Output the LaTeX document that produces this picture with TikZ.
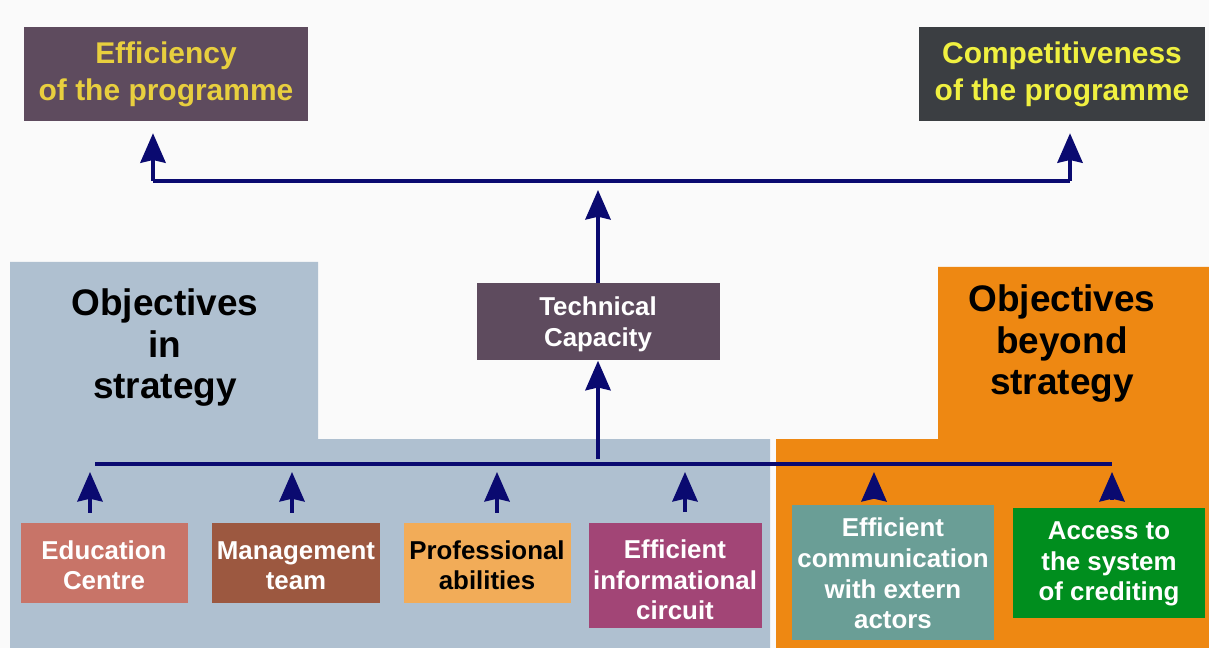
\documentclass[tikz,border=0pt]{standalone}
\usepackage{fontspec}
\setmainfont{Liberation Sans}
\usetikzlibrary{arrows.meta}
\usetikzlibrary{positioning}

\definecolor{bgwhite}{HTML}{FAFAFA}
\definecolor{arrowblue}{HTML}{0A0A70}
\definecolor{regionblue}{HTML}{AFC0D0}
\definecolor{regionorange}{HTML}{EE8812}
\definecolor{effbox}{HTML}{5E4B5E}
\definecolor{effyellow}{HTML}{E8CF3E}
\definecolor{compbox}{HTML}{3B3E42}
\definecolor{compyellow}{HTML}{F0F040}
\definecolor{educol}{HTML}{C87468}
\definecolor{mancol}{HTML}{9C5840}
\definecolor{procol}{HTML}{F2AC58}
\definecolor{infcol}{HTML}{A24576}
\definecolor{comcol}{HTML}{6A9E96}
\definecolor{acccol}{HTML}{008E1E}

\tikzset{
  link/.style={draw=arrowblue, line width=2.3pt},
  uparrow/.style={link, -{Stealth[length=21pt,width=18pt,inset=2pt]}},
  topbox/.style={inner sep=0pt, align=center, font=\bfseries\fontsize{21.3}{26.3}\selectfont},
  objtext/.style={inner sep=0pt, align=center, font=\bfseries\fontsize{26.3}{29.5}\selectfont},
  smallbox/.style={inner sep=0pt, align=center, text=white, font=\bfseries\fontsize{18.4}{21.8}\selectfont},
  % last baseline sits #1/2 below the node centre
  lastline/.style={text depth=0pt, text height=#1},
}

\begin{document}
\begin{tikzpicture}[x=0.025cm, y=-0.025cm]

 \def\px{0.025cm};

 %background
 \fill[bgwhite] (0,0) rectangle (1209,648);
 \useasboundingbox (0,0) rectangle (1209,648);

 %regions
 \fill[regionblue] (10,262) -- (318,262) -- (318,439) -- (770,439) -- (770,648) -- (10,648) -- cycle;
 \fill[regionorange] (938,267) -- (1209,267) -- (1209,648) -- (776,648) -- (776,439) -- (938,439) -- cycle;

 \node[objtext] (instr) at (165,348) {Objectives\\in\\strategy};
 \node[objtext] (beyond) at (1062,344) {Objectives\\beyond\\strategy};

 %top boxes
 \node[topbox, fill=effbox, text=effyellow, minimum width=284*\px, minimum height=94*\px] (eff) at (166,74) {Efficiency\\of the programme};
 \node[topbox, fill=compbox, text=compyellow, minimum width=286*\px, minimum height=94*\px] (comp) at (1062,74) {Competitiveness\\of the programme};

 \node[smallbox, lastline=34.4pt, fill=effbox, minimum width=243*\px, minimum height=77*\px] (tc) at (598,322) {Technical\\Capacity};

 %bottom boxes
 \foreach \x/\y/\w/\h/\col/\name/\bl/\txt in {
     104/563/167/80/educol/ec/38pt/{Education\\Centre},
     296/563/168/80/mancol/mt/38pt/{Management\\team},
     675/575/173/105/infcol/ic/63.6pt/{Efficient\\informational\\circuit},
     893/572/202/135/comcol/ca/80.7pt/{Efficient\\communication\\with extern\\actors},
     1109/563/192/110/acccol/ac/53.7pt/{Access to\\the system\\of crediting}}{
     \node[smallbox, lastline=\bl, fill=\col, minimum width=\w*\px, minimum height=\h*\px] (\name) at (\x,\y) {\txt};
 }
 \node[smallbox, lastline=38pt, fill=procol, text=black, minimum width=167*\px, minimum height=80*\px] (pa) at (487,563) {Professional\\abilities};

 %top connectors
 \coordinate (tl) at (153,181);
 \coordinate (tr) at (1070,181);
 \draw[link] (tl) -- (tr);
 \draw[uparrow, shorten >=12*\px] (tl) -- (tl |- eff.south);
 \draw[uparrow, shorten >=12*\px] (tr) -- (tr |- comp.south);
 \draw[uparrow, shorten >=9*\px] (tc.north) -- (tc.north |- tl);

 %bottom connectors
 \coordinate (bl) at (95,464);
 \coordinate (br) at (1112,464);
 \draw[link] (bl) -- (br);
 \draw[uparrow, shorten <=5*\px] (tc.south |- bl) -- (tc.south);

 \foreach \x/\name/\gap in {90/ec/10,292/mt/10,497/pa/10,685/ic/10,874/ca/5,1112/ac/8}{
     \coordinate (a\name) at (\x,472);
     \draw[uparrow, shorten <=\gap*\px] (\name.north -| a\name) -- (a\name);
 }

\end{tikzpicture}
\end{document}
